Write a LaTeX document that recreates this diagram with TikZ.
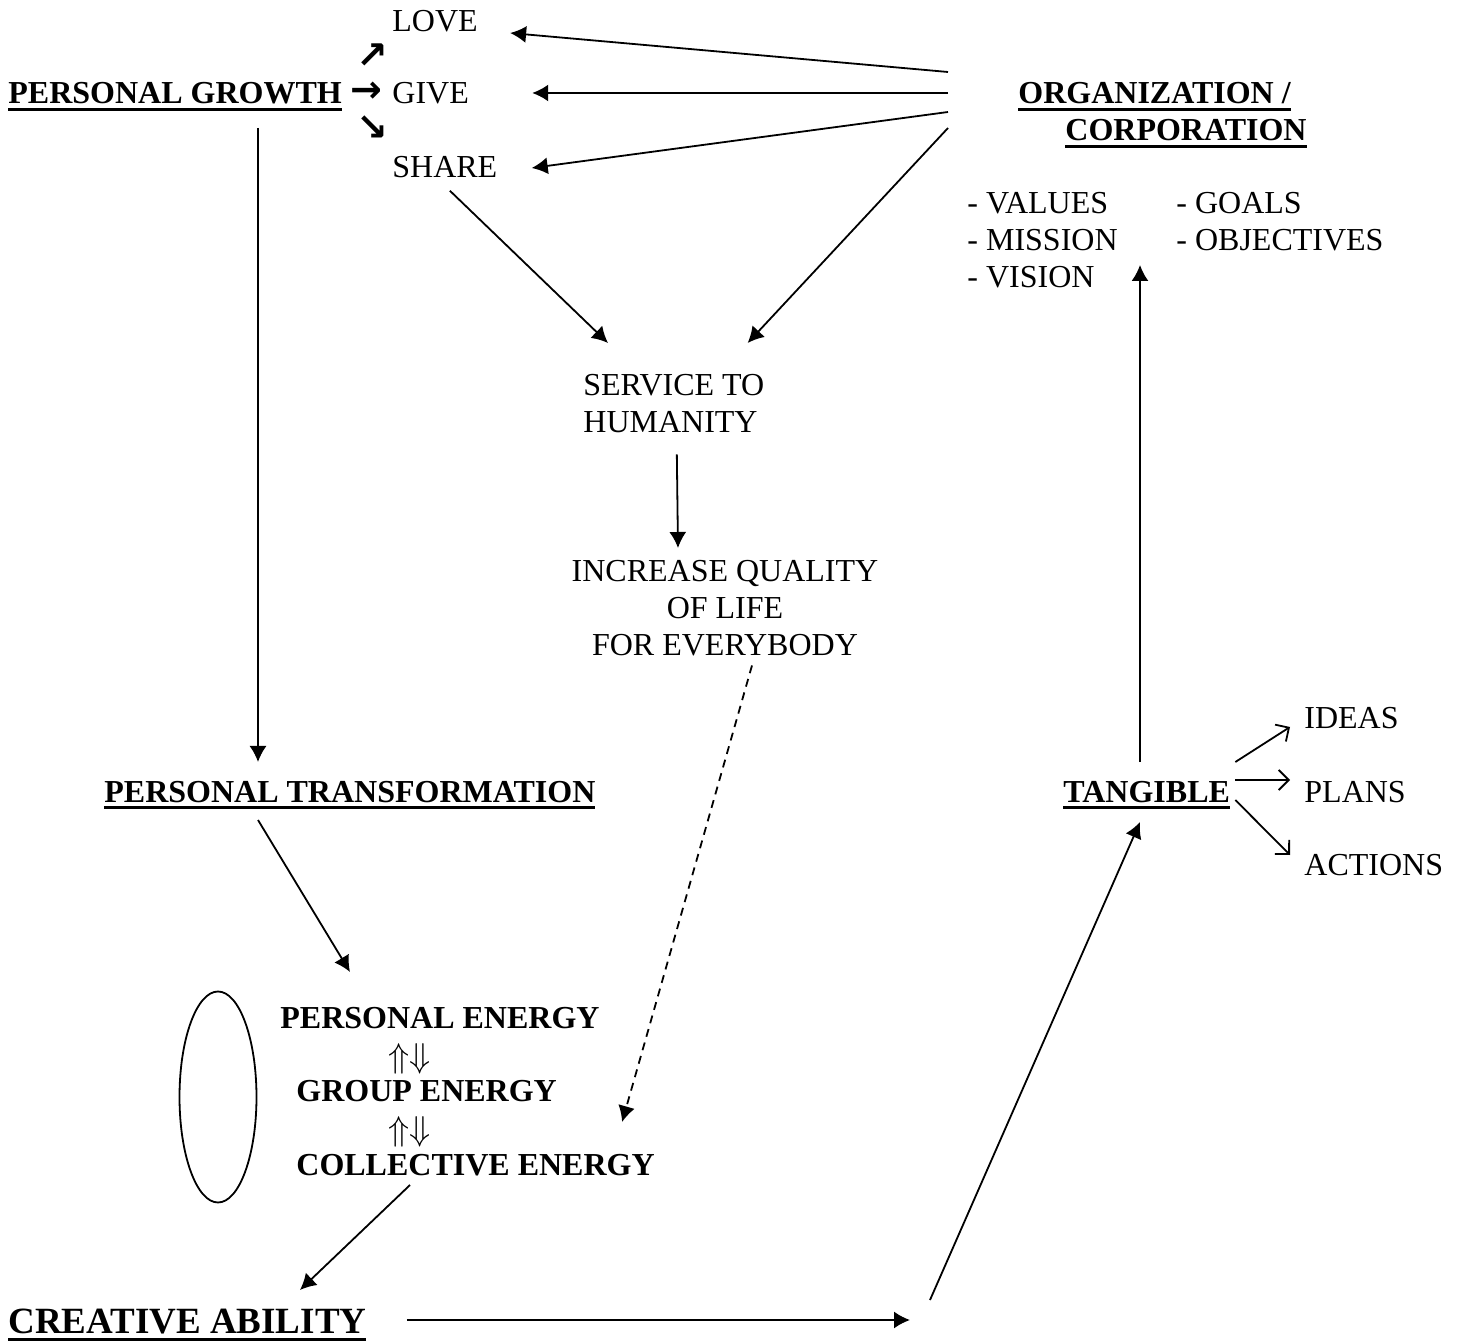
\documentclass[tikz,border=0pt]{standalone}
\usepackage{fontspec}
\setmainfont{Liberation Serif}
\newfontfamily\symfont{DejaVu Sans}
\usetikzlibrary{arrows.meta,calc,shapes.geometric}
\newcommand{\ultext}[1]{\vtop{\hbox{#1}\kern2pt\hrule height 1.5pt}}

\begin{document}
\begin{tikzpicture}[
        x=0.5pt, y=-0.5pt,
        txt/.style={inner sep=0pt, anchor=base west, font=\fontsize{16}{18.5}\selectfont},
        heading/.style={txt, font=\fontsize{16}{18.5}\selectfont\bfseries},
        glyph/.style={inner sep=0pt, font=\fontsize{19}{22}\selectfont\symfont\bfseries},
        swap/.style={inner sep=0pt, font=\fontsize{16}{18.5}\selectfont},
        arrow/.style={-{Latex[length=8pt,width=8.5pt]}, line width=0.9pt},
        barb/.style={-{Straight Barb[length=5pt,width=10pt]}, line width=0.9pt}
    ]
        \path[use as bounding box] (0,0) rectangle (1458,1342);

        \node[heading] (growth) at (8,104) {\ultext{PERSONAL GROWTH}};
        \node[glyph] (up) at (372,56) {↗};
        \node[glyph] (right) at (366,92) {→};
        \node[glyph] (down) at (372,128) {↘};
        \node[txt] (love) at (392,32) {LOVE};
        \node[txt] (give) at (392,104) {GIVE};
        \node[txt] (share) at (392,178) {SHARE};

        \node[heading] (org) at (1018,104) {\ultext{ORGANIZATION /}};
        \node[heading] (corp) at (1065,141) {\ultext{CORPORATION}};
        \node[txt] (values) at (967,214) {- VALUES};
        \node[txt] (mission) at (967,251) {- MISSION};
        \node[txt] (vision) at (967,288) {- VISION};
        \node[txt] (goals) at (1176,214) {- GOALS};
        \node[txt] (objectives) at (1176,251) {- OBJECTIVES};

        \node[txt, anchor=north west, align=left] (service) at (583,374) {SERVICE TO\\HUMANITY};
        \node[txt, anchor=north, align=center] (quality) at (725,560) {INCREASE QUALITY\\OF LIFE\\FOR EVERYBODY};

        \node[heading] (transform) at (104,802) {\ultext{PERSONAL TRANSFORMATION}};
        \node[heading] (tangible) at (1063,802) {\ultext{TANGIBLE}};
        \node[txt] (ideas) at (1304,729) {IDEAS};
        \node[txt] (plans) at (1304,802) {PLANS};
        \node[txt] (actions) at (1304,875) {ACTIONS};

        \node[draw, ellipse, line width=0.9pt, inner sep=0pt, minimum width=38.5pt, minimum height=105.5pt] (cycle) at (218,1097) {};
        \node[heading] (penergy) at (280,1028) {PERSONAL ENERGY};
        \node[swap] (swap1) at (410,1059) {$\Uparrow\Downarrow$};
        \node[heading] (genergy) at (296,1101) {GROUP ENERGY};
        \node[swap] (swap2) at (410,1132) {$\Uparrow\Downarrow$};
        \node[heading] (cenergy) at (296,1175) {COLLECTIVE ENERGY};

        \node[heading, font=\fontsize{18.5}{22}\selectfont\bfseries] (creative) at (8,1333) {\ultext{CREATIVE ABILITY}};
        \coordinate (gap1) at (910,1320);
        \coordinate (gap2) at (930,1300);

        \draw[arrow] ($(org.base west)+(-70,-32)$) -- ($(love.base east)+(32,1)$);
        \draw[arrow] ($(org.base west)+(-70,-11)$) -- ($(give.base east)+(63,-11)$);
        \draw[arrow] ($(org.base west)+(-70,8)$) -- ($(share.base east)+(34,-10)$);
        \draw[arrow] ($(org.base west)+(-70,24)$) -- ($(service.north east)+(-17,-31)$);
        \draw[arrow] ($(share.south)+(5,12)$) -- ($(service.north west)+(25,-31)$);
        \draw[arrow] ($(service.south)+(3,21)$) -- ($(quality.north)+(-47,-12)$);
        \draw[arrow, dashed, dash pattern=on 4pt off 3pt] ($(quality.south)+(27,9)$) -- ($(cenergy.base east)+(-33,-53)$);

        \draw[arrow] ($(growth.base west)+(250,24)$) -- ($(transform.base west)+(154,-40)$);
        \draw[arrow] ($(transform.base west)+(154,18)$) -- ($(penergy.base west)+(70,-56)$);
        \draw[arrow] ($(cenergy.base west)+(114,10)$) -- ($(creative.base west)+(292,-43)$);
        \draw[arrow] ($(creative.base east)+(40,-13)$) -- (gap1);
        \draw[arrow] (gap2) -- ($(tangible.base west)+(77,20)$);
        \draw[arrow] ($(tangible.base west)+(77,-40)$) -- ($(objectives.base west)+(-36,14)$);

        \draw[barb] ($(tangible.base east)+(5,-40)$) -- ($(ideas.base west)+(-14,-2)$);
        \draw[barb] ($(tangible.base east)+(5,-22)$) -- ($(plans.base west)+(-14,-22)$);
        \draw[barb] ($(tangible.base east)+(5,-2)$) -- ($(actions.base west)+(-14,-20)$);
    \end{tikzpicture}
\end{document}
